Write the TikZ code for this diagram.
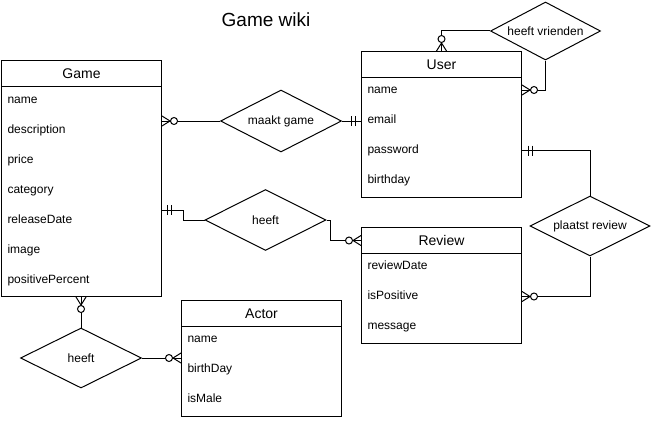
\documentclass[tikz,border=0pt]{standalone}
\usepackage{fontspec}
\setmainfont{Liberation Sans}
\usetikzlibrary{shapes.geometric}
\begin{document}
\begin{tikzpicture}[x=1pt,y=-1pt,line width=1pt,
  ent/.style={draw,anchor=north west,minimum width=160pt,inner sep=0pt},
  hdr/.style={draw,anchor=north west,minimum width=160pt,minimum height=26pt,inner sep=0pt,font=\fontsize{14}{16}\selectfont},
  row/.style={anchor=west,text width=148pt,inner xsep=6pt,inner ysep=0pt,text height=9pt,text depth=3pt,align=left,font=\fontsize{12}{14}\selectfont},
  rel/.style={draw,diamond,aspect=2,inner sep=0pt,font=\fontsize{12}{14}\selectfont},
  zm/.pic={\draw (0,0) -- (9,0); \draw (0,5) -- (8,0) -- (0,-5); \draw[fill=white] (12,0) circle[radius=3.5pt];},
  one/.pic={\draw (0,0) -- (10,0); \draw (6,-5) -- (6,5) (10,-5) -- (10,5);}
]
\useasboundingbox (0,0) rectangle (652,420);

\node[font=\fontsize{19}{22}\selectfont] (title) at (266,20) {Game wiki};

% Game
\node[ent,minimum height=236pt] (game) at (1,60) {};
\node[hdr] (gameH) at (1,60) {Game};
\node[row] (gName) at (1,100) {name};
\node[row] (gDesc) at (1,130) {description};
\node[row] (gPrice) at (1,160) {price};
\node[row] (gCat) at (1,190) {category};
\node[row] (gRel) at (1,220) {releaseDate};
\node[row] (gImg) at (1,250) {image};
\node[row] (gPos) at (1,280) {positivePercent};

% User
\node[ent,minimum height=146pt] (user) at (361,51) {};
\node[hdr] (userH) at (361,51) {User};
\node[row] (uName) at (361,90) {name};
\node[row] (uEmail) at (361,120) {email};
\node[row] (uPass) at (361,150.5) {password};
\node[row] (uBirth) at (361,180) {birthday};

% Review
\node[ent,minimum height=116pt] (review) at (361,227) {};
\node[hdr] (reviewH) at (361,227) {Review};
\node[row] (rDate) at (361,266) {reviewDate};
\node[row] (rPos) at (361,296.5) {isPositive};
\node[row] (rMsg) at (361,326) {message};

% Actor
\node[ent,minimum height=116pt] (actor) at (181,300) {};
\node[hdr] (actorH) at (181,300) {Actor};
\node[row] (aName) at (181,339) {name};
\node[row] (aBirth) at (181,369) {birthDay};
\node[row] (aMale) at (181,399) {isMale};

% relations
\node[rel,minimum width=121pt,minimum height=62pt] (maakt) at (281,121) {maakt game};
\node[rel,minimum width=121pt,minimum height=61pt] (heeftR) at (265.5,220) {heeft};
\node[rel,minimum width=110pt,minimum height=58pt] (hv) at (545.5,31) {heeft vrienden};
\node[rel,minimum width=120pt,minimum height=60pt] (pr) at (590,226) {plaatst review};
\node[rel,minimum width=121pt,minimum height=60pt] (hb) at (81,358) {heeft};

\coordinate (g2) at (161,210);

% connectors
\draw (maakt.west) -- (maakt.west -| game.east);
\draw (maakt.east) -- (maakt.east -| user.west);
\draw (g2) -- ++(22,0) |- (heeftR.west);
\draw (heeftR.east) -- ++(4,0) |- (reviewH.west);
\draw (hv.west) -| (user.north);
\draw (hv.south) |- (uName.east);
\draw (uPass.east) -| (pr.north);
\draw (pr.south) |- (rPos.east);
\draw (hb.north) -- (hb.north |- game.south);
\draw (hb.east) -- (hb.east -| actor.west);

% ends
\pic at (maakt.west -| game.east) {zm};
\pic[rotate=180] at (maakt.east -| user.west) {one};
\pic at (g2) {one};
\pic[rotate=180] at (reviewH.west) {zm};
\pic[rotate=90] at (user.north) {zm};
\pic at (uName.east) {zm};
\pic at (uPass.east) {one};
\pic at (rPos.east) {zm};
\pic[rotate=-90] at (hb.north |- game.south) {zm};
\pic[rotate=180] at (hb.east -| actor.west) {zm};
\end{tikzpicture}
\end{document}
